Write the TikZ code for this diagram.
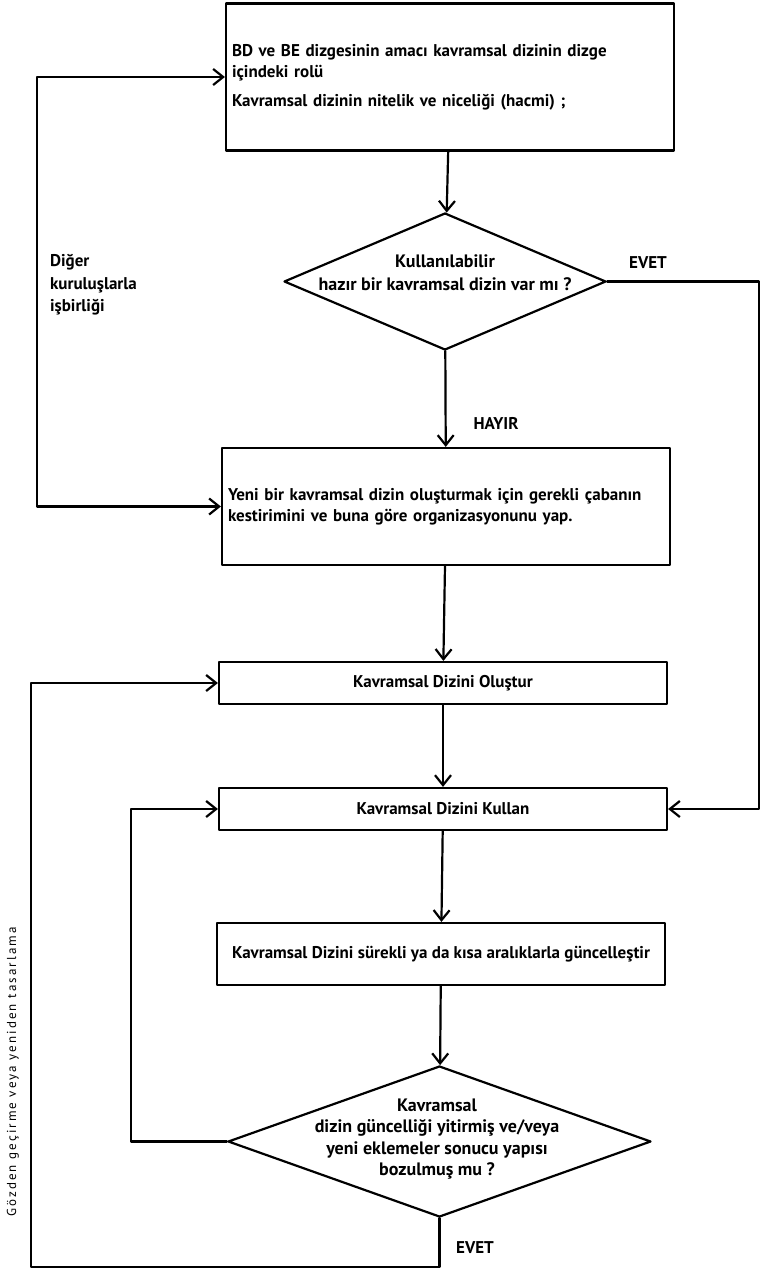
\documentclass[tikz,border=0pt]{standalone}
\usepackage{fontspec}
\setmainfont{PT Sans}
\newfontfamily\aralik[LetterSpace=16]{PT Sans}
\usetikzlibrary{shapes.geometric,arrows.meta}
\begin{document}
\begin{tikzpicture}[x=1pt, y=-1pt, line join=round, line cap=round,
  font=\fontsize{17}{21}\selectfont\bfseries, line width=2.2pt,
  >={Straight Barb[length=10pt,width=16pt]},
  kutu/.style={draw, rectangle, minimum width=448pt, inner xsep=6pt, inner ysep=0pt},
  karar/.style={draw, diamond, inner sep=0pt},
  etiket/.style={inner sep=0pt, align=center}]
\useasboundingbox (0,0) rectangle (762,1271);
% kutular
\node[kutu, minimum height=147pt, text width=436pt, align=left] (b1) at (450,77)
  {BD ve BE dizgesinin amacı kavramsal dizinin dizge\\ içindeki rolü\\[8pt] Kavramsal dizinin nitelik ve niceliği (hacmi) ;};
\node[kutu, minimum height=117pt, text width=436pt, align=left] (b2) at (446,506.5)
  {Yeni bir kavramsal dizin oluşturmak için gerekli çabanın\\ kestirimini ve buna göre organizasyonunu yap.};
\node[kutu, minimum height=42pt] (b3) at (443,683) {Kavramsal Dizini Oluştur};
\node[kutu, minimum height=42pt] (b4) at (443,809) {Kavramsal Dizini Kullan};
\node[kutu, minimum height=62pt, inner xsep=1pt] (b5) at (441,954) {Kavramsal Dizini sürekli ya da kısa aralıklarla güncelleştir};
% kararlar
\node[karar, minimum width=322pt, minimum height=137pt] (d1) at (445,281.5) {};
\node[etiket, font=\fontsize{18}{23}\selectfont\bfseries] (t1) at (445,273) {Kullanılabilir\\ hazır bir kavramsal dizin var mı ?};
\node[karar, minimum width=423pt, minimum height=151pt] (d2) at (439.5,1141.5) {};
\node[etiket, font=\fontsize{18}{21.5}\selectfont\bfseries] (t2) at (437,1139) {Kavramsal\\ dizin güncelliği yitirmiş ve/veya\\ yeni eklemeler sonucu yapısı\\ bozulmuş mu ?};
% ana akis
\draw[->] (b1) -- (d1);
\draw[->] (d1) -- (b2);
\draw[->] (b2) -- (b3);
\draw[->] (b3) -- (b4);
\draw[->] (b4) -- (b5);
\draw[->] (b5) -- (d2);
% geri donusler
\coordinate (k1) at (37,300);
\coordinate (k2) at (759,809);
\coordinate (k3) at (31,1267);
\coordinate (k4) at (131,809);
\draw[<->] (b1.west) -| (k1) |- (b2.west);
\draw[->] (d1.east) -| (k2) -- (b4.east);
\draw[->] (d2.south) |- (k3) |- (b3.west);
\draw[->] (d2.west) -| (k4) -- (b4.west);
% etiketler
\node[etiket, anchor=west, align=left, font=\fontsize{17}{22.5}\selectfont\bfseries] (l1) at (49,285) {Diğer\\ kuruluşlarla\\ işbirliği};
\node[etiket, font=\fontsize{17}{20}\selectfont\bfseries] (l2) at (648,263) {EVET};
\node[etiket, font=\fontsize{17}{20}\selectfont\bfseries] (l3) at (496,423) {HAYIR};
\node[etiket, font=\fontsize{17}{20}\selectfont\bfseries] (l4) at (475,1248) {EVET};
\node[etiket, rotate=90, font=\fontsize{13}{16}\aralik] (l5) at (13,1072) {Gözden geçirme veya yeniden tasarlama};
\end{tikzpicture}
\end{document}
